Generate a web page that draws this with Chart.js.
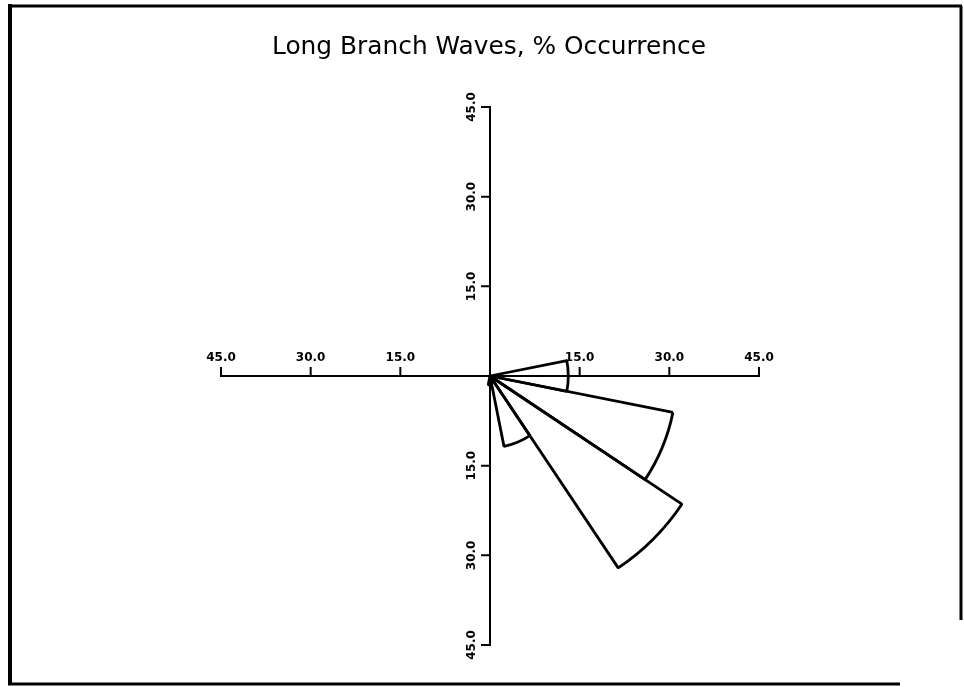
<!DOCTYPE html>
<html>
<head>
<meta charset="utf-8">
<title>Long Branch Waves, % Occurrence</title>
<script src="https://cdn.jsdelivr.net/npm/chart.js@4.4.0/dist/chart.umd.min.js"></script>
<style>
    html, body { margin: 0; padding: 0; background: #fff; }
    #wrap { width: 964px; height: 687px; position: relative; }
</style>
</head>
<body>
<div id="wrap"><canvas id="roseChart" width="964" height="687"></canvas></div>
<script>
// Wave direction bins (16 compass points, 22.5 deg each)
const directions = ['N', 'NNE', 'NE', 'ENE', 'E', 'ESE', 'SE', 'SSE',
                    'S', 'SSW', 'SW', 'WSW', 'W', 'WNW', 'NW', 'NNW'];
// % occurrence per direction
const occurrence = [0, 0, 0, 0, 13.1, 31.2, 38.6, 12.0,
                    1.5, 0, 0, 0, 0, 0, 0, 0];
// Axis tick values
const tickValues = [15, 30, 45];
const chartTitle = 'Long Branch Waves, % Occurrence';

document.addEventListener('DOMContentLoaded', function() {

    // Draws the cross-shaped axes, tick labels, title and the frame
    const crossAxes = {
        id: 'crossAxes',
        afterDraw(chart) {
            const ctx = chart.ctx;
            const scale = chart.scales.r;
            const cx = scale.xCenter;
            const cy = scale.yCenter;
            const d = v => scale.getDistanceFromCenterForValue(v);
            const rMax = d(45);

            ctx.save();
            ctx.strokeStyle = '#000';
            ctx.fillStyle = '#000';
            ctx.lineWidth = 2;
            ctx.lineCap = 'square';

            // main cross
            ctx.beginPath();
            ctx.moveTo(cx - rMax, cy);
            ctx.lineTo(cx + rMax, cy);
            ctx.moveTo(cx, cy - rMax);
            ctx.lineTo(cx, cy + rMax);
            ctx.stroke();

            // ticks
            ctx.beginPath();
            tickValues.forEach(v => {
                const r = d(v);
                ctx.moveTo(cx - r, cy); ctx.lineTo(cx - r, cy - 8);
                ctx.moveTo(cx + r, cy); ctx.lineTo(cx + r, cy - 8);
                ctx.moveTo(cx, cy - r); ctx.lineTo(cx - 8, cy - r);
                ctx.moveTo(cx, cy + r); ctx.lineTo(cx - 8, cy + r);
            });
            ctx.stroke();

            // tick labels
            ctx.font = 'bold 12px "DejaVu Sans"';
            ctx.textAlign = 'center';
            ctx.textBaseline = 'bottom';
            tickValues.forEach(v => {
                const r = d(v);
                const txt = v.toFixed(1);
                ctx.fillText(txt, cx - r, cy - 12);
                ctx.fillText(txt, cx + r, cy - 12);
                [cy - r, cy + r].forEach(y => {
                    ctx.save();
                    ctx.translate(cx - 12, y);
                    ctx.rotate(-Math.PI / 2);
                    ctx.fillText(txt, 0, 0);
                    ctx.restore();
                });
            });

            // title, stretched a little to the width of the original
            ctx.font = '24px "DejaVu Sans"';
            ctx.textBaseline = 'alphabetic';
            const w = ctx.measureText(chartTitle).width;
            ctx.save();
            ctx.translate(489, 54);
            ctx.scale(434 / w, 1);
            ctx.fillText(chartTitle, 0, 0);
            ctx.restore();

            // frame
            ctx.lineCap = 'butt';
            ctx.lineWidth = 4;
            ctx.beginPath();
            ctx.moveTo(10, 4); ctx.lineTo(10, 685);
            ctx.stroke();
            ctx.lineWidth = 3;
            ctx.beginPath();
            ctx.moveTo(8, 6); ctx.lineTo(962, 6);
            ctx.moveTo(8, 684); ctx.lineTo(900, 684);
            ctx.moveTo(961, 6); ctx.lineTo(961, 620);
            ctx.stroke();
            ctx.restore();
        }
    };

    const ctx = document.getElementById('roseChart');
    new Chart(ctx, {
        type: 'polarArea',
        data: {
            labels: directions,
            datasets: [{
                label: '% Occurrence',
                data: occurrence,
                backgroundColor: 'rgba(0,0,0,0)',
                borderColor: '#000',
                borderWidth: 2.8
            }]
        },
        options: {
            responsive: false,
            animation: false,
            layout: {
                padding: { top: 107, bottom: 42, left: 120, right: 104 }
            },
            plugins: {
                legend: { display: false },
                tooltip: { enabled: false }
            },
            scales: {
                r: {
                    min: 0,
                    max: 45,
                    startAngle: -11.25,
                    grid: { display: false },
                    angleLines: { display: false },
                    ticks: { display: false },
                    pointLabels: { display: false }
                }
            }
        },
        plugins: [crossAxes]
    });
});
</script>
</body>
</html>
